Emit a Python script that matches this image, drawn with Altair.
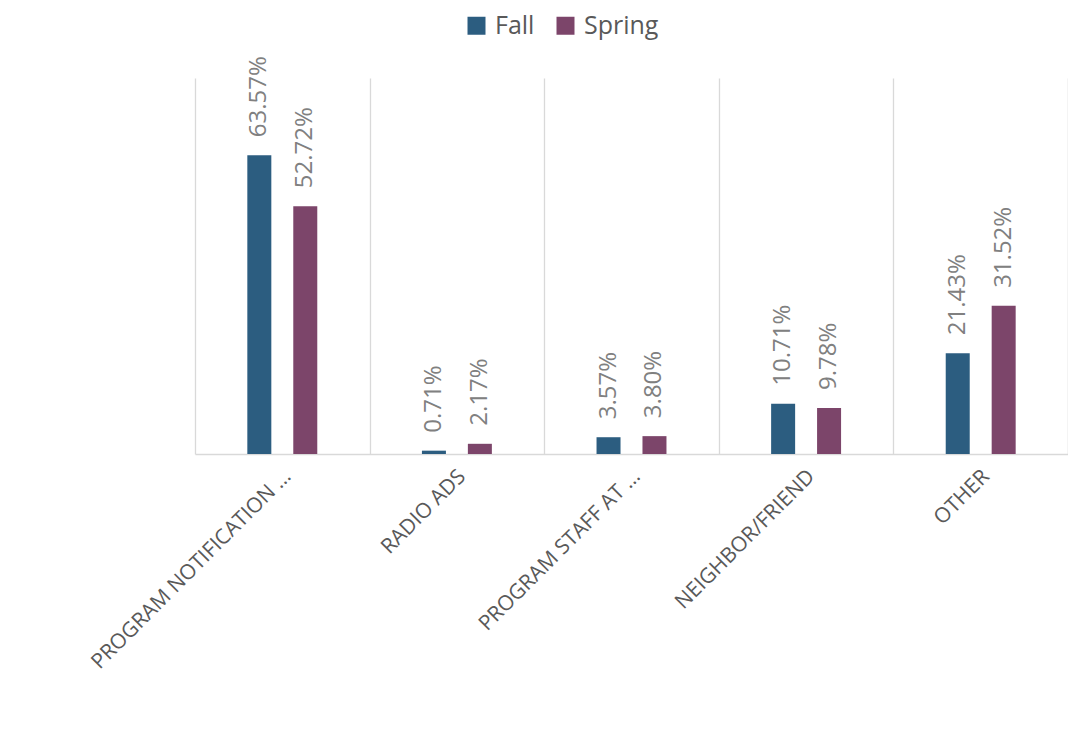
import altair as alt
import pandas as pd

categories = ["PROGRAM NOTIFICATION …", "RADIO ADS", "PROGRAM STAFF AT …", "NEIGHBOR/FRIEND", "OTHER"]
seasons = ["Fall", "Spring"]
fall = [0.6357, 0.0071, 0.0357, 0.1071, 0.2143]
spring = [0.5272, 0.0217, 0.0380, 0.0978, 0.3152]
colors = ["#2C5D80", "#7C456A"]

rows = []
for c, f, s in zip(categories, fall, spring):
    rows.append({"category": c, "season": "Fall", "value": f})
    rows.append({"category": c, "season": "Spring", "value": s})
df = pd.DataFrame(rows)

x = alt.X("category:N", sort=categories, title=None,
          scale=alt.Scale(paddingInner=0, paddingOuter=0),
          axis=alt.Axis(labelAngle=-45, labelAlign="right", labelBaseline="middle",
                        labelFont="Open Sans", labelFontSize=21, labelColor="#595959",
                        labelPadding=19, labelOffset=5, ticks=False, grid=True,
                        tickBand="extent",
                        gridColor="#d9d9d9", gridWidth=1.3, domainColor="#d9d9d9",
                        domainWidth=1.3, labelLimit=0))
xo = alt.XOffset("season:N", sort=seasons,
                 scale=alt.Scale(paddingInner=0, paddingOuter=0.9))
y = alt.Y("value:Q", title=None,
          scale=alt.Scale(domain=[0, 0.8]),
          axis=alt.Axis(orient="right", labels=False, ticks=False, grid=False,
                        domain=True, domainColor="#d9d9d9", domainWidth=1.3))

bars = alt.Chart(df).mark_bar(width=24).encode(
    x=x, xOffset=xo, y=y,
    color=alt.Color("season:N", sort=seasons,
                    scale=alt.Scale(domain=seasons, range=colors),
                    legend=alt.Legend(title=None, orient="none", legendX=267, legendY=-67,
                                      direction="horizontal", symbolType="square",
                                      symbolSize=324, symbolStrokeWidth=0,
                                      labelFont="Open Sans", labelFontSize=25,
                                      labelBaseline="middle",
                                      labelColor="#595959", labelOffset=6,
                                      columnPadding=18, padding=2)),
)

labels = alt.Chart(df).mark_text(angle=270, align="left", baseline="middle", dx=18,
                                 font="Open Sans", fontSize=24, color="#808080").encode(
    x=x, xOffset=xo, y=y,
    text=alt.Text("value:Q", format=".2%"),
)

chart = alt.layer(bars, labels).properties(
    width=873, height=376,
    autosize=alt.AutoSizeParams(type="none"),
    padding={"left": 187, "top": 70, "right": 0, "bottom": 270},
).configure_view(stroke=None)

chart.save("out.html", embed_options={"renderer": "svg", "actions": False})
